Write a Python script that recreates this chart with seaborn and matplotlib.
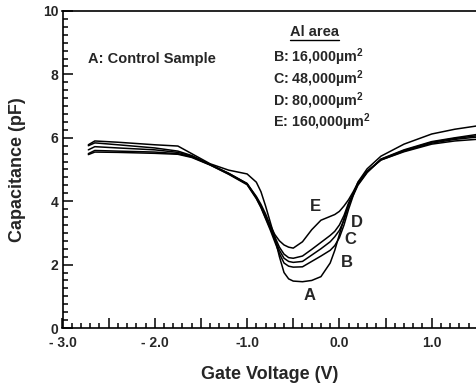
import matplotlib
matplotlib.use("Agg")
import matplotlib.pyplot as plt
import matplotlib.ticker as ticker
from matplotlib.lines import Line2D
import pandas as pd
import seaborn as sns

# gate voltage (V) sample points, shared by all curves
voltage = [-2.72, -2.65, -2.4, -2.0, -1.75, -1.6, -1.4, -1.2, -1.0, -0.9, -0.85,
           -0.8, -0.75, -0.7, -0.65, -0.6, -0.55, -0.5, -0.4, -0.3, -0.2, -0.1,
           -0.05, 0.0, 0.05, 0.1, 0.15, 0.2, 0.3, 0.45, 0.7, 1.0, 1.25, 1.48]

# capacitance (pF) per sample
cap_A = [5.78, 5.90, 5.86, 5.78, 5.74, 5.50, 5.18, 4.98, 4.86, 4.60, 4.30,
         3.85, 3.35, 2.85, 2.25, 1.75, 1.55, 1.48, 1.46, 1.50, 1.62, 2.05,
         2.45, 2.95, 3.45, 3.90, 4.20, 4.60, 5.02, 5.42, 5.80, 6.12, 6.27, 6.37]
cap_B = [5.47, 5.55, 5.54, 5.51, 5.48, 5.38, 5.14, 4.85, 4.52, 4.08, 3.80,
         3.45, 3.10, 2.72, 2.35, 2.05, 1.95, 1.92, 1.93, 2.10, 2.27, 2.45,
         2.60, 2.85, 3.25, 3.75, 4.18, 4.50, 4.90, 5.33, 5.62, 5.88, 6.00, 6.10]
cap_C = [5.50, 5.60, 5.58, 5.55, 5.50, 5.40, 5.15, 4.86, 4.54, 4.10, 3.82,
         3.48, 3.15, 2.80, 2.45, 2.20, 2.10, 2.07, 2.10, 2.30, 2.50, 2.72,
         2.88, 3.08, 3.40, 3.88, 4.22, 4.53, 4.92, 5.32, 5.60, 5.86, 5.98, 6.06]
cap_D = [5.75, 5.84, 5.78, 5.68, 5.58, 5.44, 5.16, 4.88, 4.56, 4.12, 3.85,
         3.52, 3.20, 2.88, 2.55, 2.33, 2.22, 2.20, 2.27, 2.48, 2.70, 2.92,
         3.05, 3.25, 3.55, 3.95, 4.25, 4.55, 4.93, 5.30, 5.58, 5.83, 5.95, 6.02]
cap_E = [5.62, 5.72, 5.68, 5.62, 5.54, 5.42, 5.15, 4.88, 4.55, 4.15, 3.90,
         3.60, 3.25, 2.95, 2.75, 2.62, 2.55, 2.52, 2.72, 3.10, 3.40, 3.52,
         3.58, 3.68, 3.85, 4.05, 4.30, 4.58, 4.95, 5.30, 5.56, 5.80, 5.90, 5.95]

samples = ["A", "B", "C", "D", "E"]
area_labels = ["B: 16,000µm$^{\\mathbf{2}}$", "C: 48,000µm$^{\\mathbf{2}}$",
               "D: 80,000µm$^{\\mathbf{2}}$", "E: 160,000µm$^{\\mathbf{2}}$"]

frames = []
for name, vals in zip(samples, [cap_A, cap_B, cap_C, cap_D, cap_E]):
    frames.append(pd.DataFrame({"V": voltage, "C": vals, "sample": name}))
df = pd.concat(frames, ignore_index=True)

sns.set_style("ticks")
plt.rcParams["font.family"] = ["Liberation Sans", "DejaVu Sans"]
plt.rcParams["font.weight"] = "bold"
plt.rcParams["mathtext.fontset"] = "custom"
plt.rcParams["mathtext.rm"] = "Liberation Sans:bold"
plt.rcParams["mathtext.bf"] = "Liberation Sans:bold"

fig = plt.figure(figsize=(4.76, 3.85), dpi=100)
ax = fig.add_axes([62.5 / 476, 57 / 385, (476 - 62.5) / 476, 317 / 385])

sns.lineplot(data=df, x="V", y="C", hue="sample", palette=["black"] * 5,
             estimator=None, legend=False, linewidth=1.1, ax=ax)

ax.set_xlim(-3.0, 1.48)
ax.set_ylim(0, 10)

ax.xaxis.set_major_locator(ticker.MultipleLocator(0.5))
ax.xaxis.set_minor_locator(ticker.MultipleLocator(0.1))
xlab = {-3: "- 3.0", -2: "- 2.0", -1: "-1.0", 0: "0.0", 1: "1.0"}
ax.xaxis.set_major_formatter(ticker.FuncFormatter(
    lambda v, p: xlab.get(int(round(v)), "") if abs(v - round(v)) < 1e-6 else ""))
ax.yaxis.set_major_locator(ticker.MultipleLocator(2))
ax.yaxis.set_minor_locator(ticker.MultipleLocator(0.25))

ax.tick_params(which="both", direction="in", color="black", width=1.1,
               labelsize=10)
ax.tick_params(axis="x", pad=6)
ax.tick_params(axis="y", pad=3)
ax.tick_params(which="major", length=7)
ax.tick_params(which="minor", length=3.5)
for lab in ax.get_xticklabels() + ax.get_yticklabels():
    lab.set_fontweight("bold")

for s in ["left", "bottom", "top"]:
    ax.spines[s].set_linewidth(1.2)
    ax.spines[s].set_color("black")
ax.spines["right"].set_visible(False)

ax.set_xlabel("Gate Voltage (V)", fontsize=13, fontweight="bold", labelpad=11)
ax.set_ylabel("Capacitance (pF)", fontsize=13, fontweight="bold", labelpad=12)

# curve letters
letter_pos = {"A": (-0.32, 1.04), "B": (0.08, 2.08), "C": (0.12, 2.78),
              "D": (0.19, 3.34), "E": (-0.26, 3.82)}
for k, (x, y) in letter_pos.items():
    ax.text(x, y, k, fontsize=12, fontweight="bold", ha="center", va="center")

ax.text(-2.72, 8.48, "A: Control Sample", fontsize=10.5, fontweight="bold",
        ha="left", va="center")
title = ax.text(-0.27, 9.34, "Al area", fontsize=10.5, fontweight="bold",
                ha="center", va="center")
for i, lab in enumerate(area_labels):
    ax.text(-0.72, 8.55 - i * 0.69, lab, fontsize=10.3, fontweight="bold",
            ha="left", va="center")

# underline for the "Al area" heading
fig.canvas.draw()
bb = title.get_window_extent()
inv = fig.transFigure.inverted()
(x0, y0), (x1, _) = inv.transform([(bb.x0, bb.y0 - 1), (bb.x1, bb.y0)])
fig.add_artist(Line2D([x0, x1], [y0, y0], color="black", lw=1.0,
                      transform=fig.transFigure))

fig.savefig("out.png", dpi=100)
